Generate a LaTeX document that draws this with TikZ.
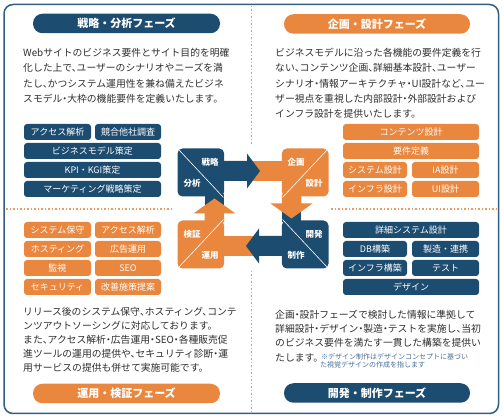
\documentclass[tikz,border=0pt]{standalone}
\usepackage{fontspec}
\setmainfont{Noto Sans CJK JP}
\newfontfamily\parafont[RawFeature=+halt]{Noto Sans CJK JP}
\definecolor{dblue}{RGB}{28,76,112}
\definecolor{orng}{RGB}{233,135,63}
\definecolor{framec}{RGB}{50,94,132}
\definecolor{txt}{RGB}{45,45,45}
\definecolor{dotc}{RGB}{238,155,95}
\definecolor{notec}{RGB}{70,110,150}
\tikzset{
  pill/.style={rounded corners=9.5pt, minimum height=19.5pt, inner sep=0pt, text=white, font=\fontsize{11}{11}\selectfont\bfseries},
  tag/.style={rounded corners=3pt, minimum height=16pt, inner sep=0pt, text=white, font=\fontsize{9}{9}\selectfont},
  para/.style={anchor=base west, inner sep=0pt, text=txt, font=\parafont\fontsize{9.8}{9.8}\selectfont},
  notetext/.style={anchor=base west, inner sep=0pt, text=notec, font=\parafont\fontsize{7}{7}\selectfont},
  lbl/.style={text=white, inner sep=0pt, font=\fontsize{8.5}{8.5}\selectfont\bfseries},
  diag/.style={white, line width=0.6pt},
  dotline/.style={dotc, line width=1.5pt, dash pattern=on 1.5pt off 2pt}
}
\begin{document}
\begin{tikzpicture}[x=1pt,y=-1pt]
\useasboundingbox (0,0) rectangle (504,419);
% frame
\draw[framec, line width=1.5pt, rounded corners=9pt] (4,4.5) rectangle (498.5,413.5);
% dotted dividers
\coordinate (vt) at (251.7,6);
\coordinate (vtm) at (251.7,146);
\coordinate (vbm) at (251.7,271);
\coordinate (vb) at (251.7,412);
\coordinate (hl) at (6,209);
\coordinate (hlm) at (174,209);
\coordinate (hrm) at (331,209);
\coordinate (hr) at (497,209);
\draw[dotline] (vt) -- (vtm);
\draw[dotline] (vbm) -- (vb);
\draw[dotline] (hl) -- (hlm);
\draw[dotline] (hrm) -- (hr);

% phase titles
\node[pill, fill=dblue, minimum width=187pt] (p1) at (126.5,23.5) {戦略・分析フェーズ};
\node[pill, fill=orng, minimum width=186pt] (p2) at (377,24) {企画・設計フェーズ};
\node[pill, fill=orng, minimum width=187pt] (p3) at (126.5,393.5) {運用・検証フェーズ};
\node[pill, fill=dblue, minimum width=186pt] (p4) at (377,393) {開発・制作フェーズ};

% paragraph TL
\node[para] (t11) at (23,56.8) {Webサイトのビジネス要件とサイト目的を明確};
\node[para] (t12) at (23,72.0) {化した上で、ユーザーのシナリオやニーズを満};
\node[para] (t13) at (23,87.2) {たし、かつシステム運用性を兼ね備えたビジネ};
\node[para] (t14) at (23,102.4) {スモデル・大枠の機能要件を定義いたします。};
% paragraph TR
\node[para] (t21) at (275,56.8) {ビジネスモデルに沿った各機能の要件定義を行};
\node[para] (t22) at (275,72.0) {ない、コンテンツ企画、詳細基本設計、ユーザー};
\node[para] (t23) at (275,87.2) {シナリオ・情報アーキテクチャ・UI設計など、ユー};
\node[para] (t24) at (275,102.4) {ザー視点を重視した内部設計・外部設計および};
\node[para] (t25) at (275,117.6) {インフラ設計を提供いたします。};
% paragraph BL
\node[para] (t31) at (23,315.1) {リリース後のシステム保守、ホスティング、コンテ};
\node[para] (t32) at (23,329.3) {ンツアウトソーシングに対応しております。};
\node[para] (t33) at (23,343.5) {また、アクセス解析・広告運用・SEO・各種販売促};
\node[para] (t34) at (23,357.7) {進ツールの運用の提供や、セキュリティ診断・運};
\node[para] (t35) at (23,371.9) {用サービスの提供も併せて実施可能です。};
% paragraph BR
\node[para] (t41) at (275,318.4) {企画・設計フェーズで検討した情報に準拠して};
\node[para] (t42) at (275,332.7) {詳細設計・デザイン・製造・テストを実施し、当初};
\node[para] (t43) at (275,347.0) {のビジネス要件を満たす一貫した構築を提供い};
\node[para] (t44) at (275,361.3) {たします。};
\node[notetext] (t45) at (321,359.2) {※デザイン制作はデザインコンセプトに基づい};
\node[notetext] (t46) at (320,367.8) {た視覚デザインの作成を指します};

% TL tags
\node[tag, fill=dblue, minimum width=67pt] (a1) at (57.5,132) {アクセス解析};
\node[tag, fill=dblue, minimum width=66pt] (a2) at (128,132) {競合他社調査};
\node[tag, fill=dblue, minimum width=137pt] (a3) at (92.5,151) {ビジネスモデル策定};
\node[tag, fill=dblue, minimum width=137pt] (a4) at (92.5,170) {KPI・KGI策定};
\node[tag, fill=dblue, minimum width=137pt] (a5) at (92.5,189) {マーケティング戦略策定};
% TR tags
\node[tag, fill=orng, minimum width=136pt] (b1) at (411,132) {コンテンツ設計};
\node[tag, fill=orng, minimum width=136pt] (b2) at (411,151) {要件定義};
\node[tag, fill=orng, minimum width=64pt] (b3) at (375,170) {システム設計};
\node[tag, fill=orng, minimum width=67pt] (b4) at (445.5,170) {IA設計};
\node[tag, fill=orng, minimum width=64pt] (b5) at (375,189) {インフラ設計};
\node[tag, fill=orng, minimum width=67pt] (b6) at (445.5,189) {UI設計};
% BL tags
\node[tag, fill=orng, minimum width=67pt] (c1) at (57.5,230) {システム保守};
\node[tag, fill=orng, minimum width=66pt] (c2) at (128,230) {アクセス解析};
\node[tag, fill=orng, minimum width=67pt] (c3) at (57.5,249) {ホスティング};
\node[tag, fill=orng, minimum width=66pt] (c4) at (128,249) {広告運用};
\node[tag, fill=orng, minimum width=67pt] (c5) at (57.5,268) {監視};
\node[tag, fill=orng, minimum width=66pt] (c6) at (128,268) {SEO};
\node[tag, fill=orng, minimum width=67pt] (c7) at (57.5,287) {セキュリティ};
\node[tag, fill=orng, minimum width=66pt] (c8) at (128,287) {改善施策提案};
% BR tags
\node[tag, fill=dblue, minimum width=136pt] (d1) at (411,230) {詳細システム設計};
\node[tag, fill=dblue, minimum width=64pt] (d2) at (375,249) {DB構築};
\node[tag, fill=dblue, minimum width=67pt] (d3) at (445.5,249) {製造・連携};
\node[tag, fill=dblue, minimum width=64pt] (d4) at (375,268) {インフラ構築};
\node[tag, fill=dblue, minimum width=67pt] (d5) at (445.5,268) {テスト};
\node[tag, fill=dblue, minimum width=136pt] (d6) at (411,287) {デザイン};

% central cycle
\begin{scope}[shift={(253,208.5)}]
  % block bodies and receiving tabs
  \fill[dblue, rounded corners=5pt] (-75.5,-60) rectangle (-28.8,-12);
  \fill[dblue] (-48.3,-14) rectangle (-28.8,6);
  \fill[orng, rounded corners=5pt] (28.8,-60) rectangle (75.5,-12);
  \fill[orng] (-8,-47.5) rectangle (31,-27.5);
  \fill[dblue, rounded corners=5pt] (28.8,12) rectangle (75.5,60);
  \fill[dblue] (28.8,-6) rectangle (48.3,14);
  \fill[orng, rounded corners=5pt] (-75.5,12) rectangle (-28.8,60);
  \fill[orng] (8,27.5) rectangle (-31,47.5);
  % arrows
  \fill[dblue] (-31,-47.5) -- (-6,-47.5) -- (-6,-55) -- (7,-37.5) -- (-6,-20) -- (-6,-27.5) -- (-31,-27.5) -- cycle;
  \fill[orng] (28.8,-14) -- (28.8,-5) -- (17.5,-5) -- (38.5,10) -- (59.5,-5) -- (48.3,-5) -- (48.3,-14) -- cycle;
  \fill[dblue] (31,47.5) -- (6,47.5) -- (6,55) -- (-7,37.5) -- (6,20) -- (6,27.5) -- (31,27.5) -- cycle;
  \fill[orng] (-28.8,14) -- (-28.8,5) -- (-17.5,5) -- (-38.5,-10) -- (-59.5,5) -- (-48.3,5) -- (-48.3,14) -- cycle;
  % diagonals
  \draw[diag] (-74,-58.5) -- (-29.5,-11);
  \draw[diag] (29.5,-11) -- (74,-58.5);
  \draw[diag] (29.5,11) -- (74,58.5);
  \draw[diag] (-74,58.5) -- (-29.5,11);
  % labels
  \node[lbl] (k1) at (-43,-46) {戦略};
  \node[lbl] (k2) at (-61,-25) {分析};
  \node[lbl] (k3) at (43,-46) {企画};
  \node[lbl] (k4) at (61,-25) {設計};
  \node[lbl] (k5) at (61,26) {開発};
  \node[lbl] (k6) at (43,47) {制作};
  \node[lbl] (k7) at (-61,26) {検証};
  \node[lbl] (k8) at (-43,47) {運用};
\end{scope}
\end{tikzpicture}
\end{document}
